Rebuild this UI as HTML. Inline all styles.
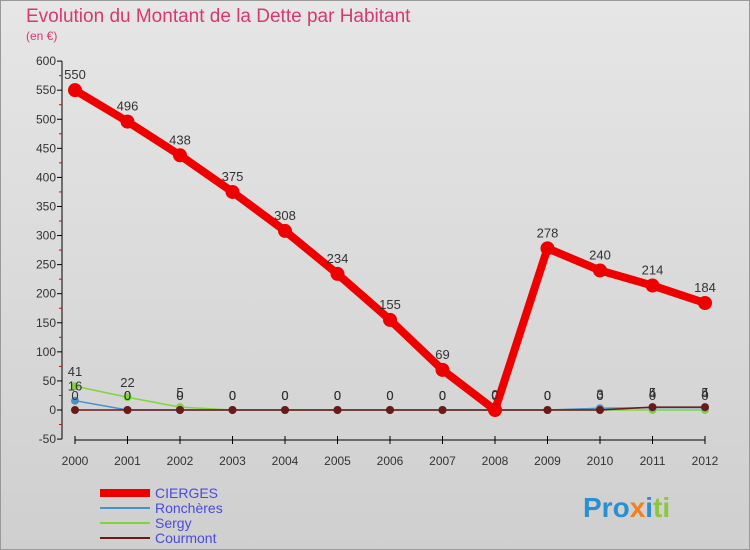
<!DOCTYPE html>
<html><head><meta charset="utf-8"><style>
body{margin:0;}
#wrap{width:750px;height:550px;position:relative;overflow:hidden;background:linear-gradient(#e6e6e6,#cfcfcf);font-family:"Liberation Sans",sans-serif;}
svg text{font-family:"Liberation Sans",sans-serif;}
</style></head><body>
<div id="wrap">
<svg id="c" width="750" height="550">
<rect x="0.5" y="0.5" width="749" height="549" fill="none" stroke="#999"/>
<text x="26" y="22" font-size="19" fill="#d63a6a">Evolution du Montant de la Dette par Habitant</text>
<text x="26" y="40" font-size="12" fill="#d63a6a">(en €)</text>
<g id="axes"></g><g id="series"></g><g id="legend"></g>
<text x="583" y="517" font-size="28" font-weight="bold" fill="#2a8fd0">Pro<tspan fill="#f08020">x</tspan><tspan fill="#2a8fd0">i</tspan><tspan fill="#8cc63f">ti</tspan></text>
</svg></div>
<script>
const years=[2000,2001,2002,2003,2004,2005,2006,2007,2008,2009,2010,2011,2012];
const cierges=[550,496,438,375,308,234,155,69,0,278,240,214,184];
const roncheres=[16,0,0,0,0,0,0,0,0,0,3,4,4];
const sergy=[41,22,5,0,0,0,0,0,0,0,0,0,0];
const courmont=[0,0,0,0,0,0,0,0,0,0,0,5,5];
const yTicks=[-50,0,50,100,150,200,250,300,350,400,450,500,550,600];
const NS="http://www.w3.org/2000/svg";
const x=i=>75+i*52.5;
const y=v=>410-v*0.5815;
function mk(t,a,p){const e=document.createElementNS(NS,t);for(const k in a)e.setAttribute(k,a[k]);p.appendChild(e);return e;}
const ax=document.getElementById('axes');
let l=mk('line',{x1:62,y1:y(600),x2:62,y2:y(-50),stroke:'#000'},ax);


l=mk('line',{x1:75,y1:440,x2:705,y2:440,stroke:'#000'},ax);


yTicks.forEach((v,k)=>{
 mk('line',{x1:57,y1:y(v),x2:62,y2:y(v),stroke:'#000'},ax);
 if(k<yTicks.length-1) mk('line',{x1:59,y1:y(v+25),x2:62,y2:y(v+25),stroke:'#e00'},ax);
 const t=mk('text',{x:56,y:y(v)+4,'font-size':12,'text-anchor':'end',fill:'#333'},ax);t.textContent=v;
 
 
});
years.forEach((yr,i)=>{
 mk('line',{x1:x(i),y1:436,x2:x(i),y2:444,stroke:'#000'},ax);
 const t=mk('text',{x:x(i),y:465,'font-size':12,'text-anchor':'middle',fill:'#333'},ax);t.textContent=yr;
 
 
});
const sg=document.getElementById('series');
function series(data,color,w,r,name,labelOff){
 const g=mk('g',{},sg);
 
 
 const pl=mk('polyline',{points:data.map((v,i)=>x(i)+','+y(v)).join(' '),fill:'none',stroke:color,'stroke-width':w,'stroke-linejoin':'round'},g);
 
 
 data.forEach((v,i)=>{
  const c=mk('circle',{cx:x(i),cy:y(v),r:r,fill:color},g);
  
  
  const t=mk('text',{x:x(i),y:y(v)-labelOff,'font-size':13,'text-anchor':'middle',fill:'#333'},g);t.textContent=v;
  
  
 });
}
series(sergy,'#7ed63a',1.5,4,'sergy',10);
series(roncheres,'#4a90c8',1.5,4,'roncheres',10);
series(courmont,'#6b1a1a',1.5,4,'courmont',10);
series(cierges,'#ee0000',8,7,'cierges',11);
const lg=document.getElementById('legend');
[['CIERGES','#ee0000',8],['Ronchères','#4a90c8',2],['Sergy','#7ed63a',2],['Courmont','#6b1a1a',2]].forEach((d,i)=>{
 const yy=493+i*15;
 const g=mk('g',{},lg);
 
 
 mk('line',{x1:100,y1:yy,x2:150,y2:yy,stroke:d[1],'stroke-width':d[2]},g);
 const t=mk('text',{x:155,y:yy+5,'font-size':14,fill:'#4a4ae0'},g);t.textContent=d[0];
});
</script>
</body></html>
